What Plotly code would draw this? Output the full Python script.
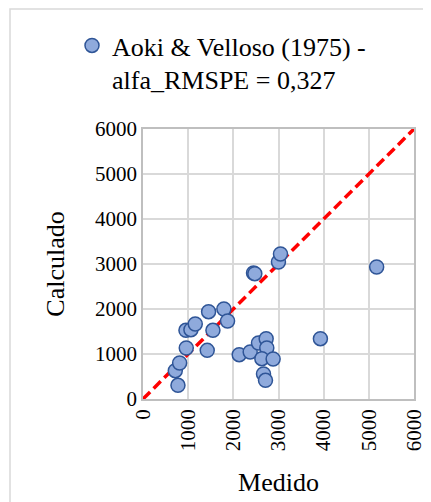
import plotly.graph_objects as go

medido = [774, 715, 811, 958, 951, 1061, 1157, 1422, 1452, 1548, 1791, 1872,
          2130, 2373, 2447, 2476, 2557, 2727, 2741, 2631, 2881, 2668, 2712,
          2999, 3044, 3928, 5173]
calculado = [304, 630, 800, 1133, 1526, 1541, 1667, 1081, 1941, 1526, 2000, 1733,
             985, 1044, 2800, 2785, 1244, 1341, 1133, 896, 889, 556, 415,
             3044, 3222, 1341, 2933]
linha_x = [0, 6000]
linha_y = [0, 6000]
tick_vals = [0, 1000, 2000, 3000, 4000, 5000, 6000]

# page body has an 8px margin, so the figure is drawn 8px smaller
W, H = 423, 494
ml, mr, mt, mb = 135, 17, 121, 103
pw = W - ml - mr
ph = H - mt - mb

fig = go.Figure()

fig.add_trace(go.Scatter(
    x=linha_x, y=linha_y, mode="lines",
    line=dict(color="#FF0000", width=3.5, dash="10px,5px"),
    showlegend=False, hoverinfo="skip"
))

fig.add_trace(go.Scatter(
    x=medido, y=calculado, mode="markers",
    name="Aoki & Velloso (1975) -<br>alfa_RMSPE = 0,327",
    marker=dict(size=14, color="#8FAADC", line=dict(color="#2F5597", width=1.5)),
    cliponaxis=False
))

# chart area border (Excel style)
fig.add_shape(type="rect", xref="paper", yref="paper",
              x0=(2 - ml) / pw, x1=(W + 10 - ml) / pw,
              y0=(H - mb - (H + 10)) / ph, y1=(H - mb - 1) / ph,
              line=dict(color="#D9D9D9", width=1.5), fillcolor="rgba(0,0,0,0)",
              layer="below")

axis_style = dict(
    range=[0, 6000], tickvals=tick_vals, showgrid=True, gridcolor="#D9D9D9",
    gridwidth=1.5, zeroline=False, showline=True, linecolor="#BFBFBF",
    linewidth=1.5, ticks="", mirror=True, automargin=False,
    tickfont=dict(family="Liberation Serif", size=21, color="black"),
)

fig.update_layout(
    width=W, height=H,
    margin=dict(l=ml, r=mr, t=mt, b=mb, autoexpand=False),
    paper_bgcolor="white", plot_bgcolor="white",
    font=dict(family="Liberation Serif", color="black"),
    xaxis=dict(**axis_style, tickangle=-90,
               title=dict(text="Medido", font=dict(size=26), standoff=23)),
    yaxis=dict(**axis_style,
               title=dict(text="Calculado", font=dict(size=26), standoff=23)),
    legend=dict(
        x=(64 - ml) / pw, xanchor="left",
        y=1 + (mt - 14) / ph, yanchor="top",
        valign="top", font=dict(size=26, family="Liberation Serif"),
        bgcolor="rgba(0,0,0,0)"
    ),
)

fig.write_html("out.html")
